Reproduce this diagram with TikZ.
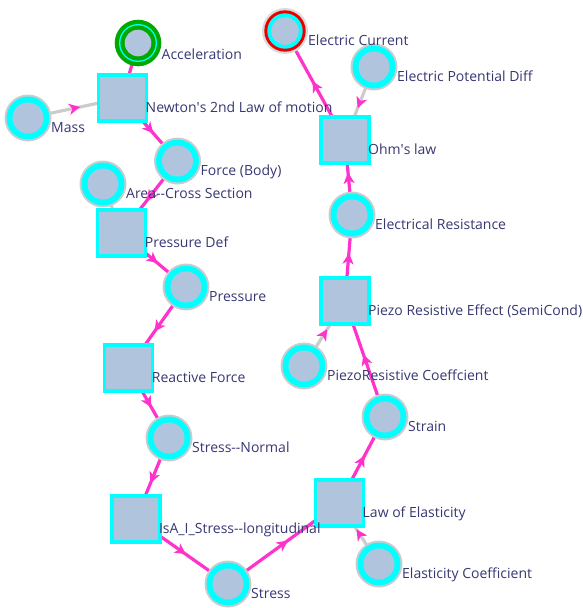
\documentclass[tikz,border=0pt]{standalone}
\usepackage{fontspec}
\setmainfont{Open Sans}
\usetikzlibrary{arrows.meta,decorations.markings,backgrounds}

\definecolor{nodefill}{RGB}{176,196,222}
\definecolor{ringcyan}{RGB}{0,255,255}
\definecolor{ringgray}{RGB}{204,204,204}
\definecolor{flowpink}{RGB}{255,51,204}
\definecolor{labeltext}{RGB}{55,55,115}
\definecolor{startgreen}{RGB}{0,168,0}
\definecolor{endred}{RGB}{235,0,0}

\tikzset{
  quantity/.style={circle, minimum size=47pt, inner sep=0pt, fill=ringgray,
    path picture={
      \fill[ringcyan] (path picture bounding box.center) circle (21.5pt);
      \fill[nodefill] (path picture bounding box.center) circle (15.5pt);}},
  startq/.style={circle, minimum size=46.6pt, inner sep=0pt, fill=startgreen,
    path picture={
      \fill[ringcyan] (path picture bounding box.center) circle (19pt);
      \fill[startgreen] (path picture bounding box.center) circle (17.6pt);
      \fill[nodefill] (path picture bounding box.center) circle (13.3pt);}},
  endq/.style={circle, minimum size=46pt, inner sep=0pt, fill=ringgray!70,
    path picture={
      \fill[endred] (path picture bounding box.center) circle (20.7pt);
      \fill[ringcyan] (path picture bounding box.center) circle (17.7pt);
      \fill[nodefill] (path picture bounding box.center) circle (13.8pt);}},
  law/.style={rectangle, minimum width=48pt, minimum height=46pt, inner sep=0pt,
    fill=nodefill, draw=ringcyan, line width=3.5pt},
  tag/.style={anchor=base west, text=labeltext, inner sep=0pt,
    font=\fontsize{14}{16}\selectfont},
  flow/.style={draw=flowpink, line width=3.2pt},
  param/.style={draw=ringgray, line width=3.2pt},
  mid arrow/.style={postaction={decorate, decoration={markings,
    mark=at position 0.5 with {\arrow[flowpink, xshift=5pt]{Stealth[length=11pt,width=11pt,inset=3pt]}}}}},
}

\begin{document}
\begin{tikzpicture}[x=1pt, y=-1pt]
\useasboundingbox (0,0) rectangle (583,608);

% mechanical chain
\node[startq]   (acc)    at (138,43)    {};
\node[law]      (newton) at (122.5,98)  {};
\node[quantity] (mass)   at (28,118)    {};
\node[quantity] (force)  at (177.5,161) {};
\node[quantity] (area)   at (103,184)   {};
\node[law]      (pdef)   at (121.7,233) {};
\node[quantity] (press)  at (186,287)   {};
\node[law]      (react)  at (128.7,368) {};
\node[quantity] (snorm)  at (169,438)   {};
\node[law]      (isa)    at (135.8,519) {};
\node[quantity] (stress) at (228,584)   {};

% electrical chain
\node[law]      (loe)    at (339.5,503) {};
\node[quantity] (ecoef)  at (379,564)   {};
\node[quantity] (strain) at (385,417)   {};
\node[quantity] (prcoef) at (304,366)   {};
\node[law]      (piezo)  at (345,301)   {};
\node[quantity] (eres)   at (352,215)   {};
\node[law]      (ohm)    at (345,140)   {};
\node[quantity] (epd)    at (374,67)    {};
\node[endq]     (ecur)   at (285,31)    {};

% connectors, behind the nodes
\begin{scope}[on background layer]
  \draw[flow] (acc.center) -- (newton.center);
  \draw[param, mid arrow] (mass.center) -- (newton.center);
  \draw[flow, mid arrow] (newton.center) -- (force.center);
  \draw[flow, mid arrow] (force.center) -- (pdef.center);
  \draw[param] (area.center) -- (pdef.center);
  \draw[flow, mid arrow] (pdef.center) -- (press.center);
  \draw[flow, mid arrow] (press.center) -- (react.center);
  \draw[flow, mid arrow] (react.center) -- (snorm.center);
  \draw[flow, mid arrow] (snorm.center) -- (isa.center);
  \draw[flow, mid arrow] (isa.center) -- (stress.center);
  \draw[flow, mid arrow] (stress.center) -- (loe.center);
  \draw[param, mid arrow] (ecoef.center) -- (loe.center);
  \draw[flow, mid arrow] (loe.center) -- (strain.center);
  \draw[flow, mid arrow] (strain.center) -- (piezo.center);
  \draw[param, mid arrow] (prcoef.center) -- (piezo.center);
  \draw[flow, mid arrow] (piezo.center) -- (eres.center);
  \draw[flow, mid arrow] (eres.center) -- (ohm.center);
  \draw[param, mid arrow] (epd.center) -- (ohm.center);
  \draw[flow, mid arrow] (ohm.center) -- (ecur.center);
\end{scope}

% labels
\node[tag] (t-acc)    at ([shift={(23.5,16)}]acc.center)      {Acceleration};
\node[tag] (t-newton) at ([shift={(23,14)}]newton.center)     {Newton\textquotesingle s 2nd Law of motion};
\node[tag] (t-mass)   at ([shift={(23,14.5)}]mass.center)     {Mass};
\node[tag] (t-force)  at ([shift={(23,14.5)}]force.center)    {Force (Body)};
\node[tag] (t-area)   at ([shift={(23,14)}]area.center)       {Area-{}-Cross Section};
\node[tag] (t-pdef)   at ([shift={(23,14)}]pdef.center)       {Pressure Def};
\node[tag] (t-press)  at ([shift={(23,14)}]press.center)      {Pressure};
\node[tag] (t-react)  at ([shift={(23,14)}]react.center)      {Reactive Force};
\node[tag] (t-snorm)  at ([shift={(23,14)}]snorm.center)      {Stress-{}-Normal};
\node[tag] (t-isa)    at ([shift={(23,14)}]isa.center)        {IsA\_I\_Stress-{}-longitudinal};
\node[tag] (t-stress) at ([shift={(23,14)}]stress.center)     {Stress};
\node[tag] (t-loe)    at ([shift={(23,14)}]loe.center)        {Law of Elasticity};
\node[tag] (t-ecoef)  at ([shift={(23,14)}]ecoef.center)      {Elasticity Coefficient};
\node[tag] (t-strain) at ([shift={(23,14)}]strain.center)     {Strain};
\node[tag] (t-prcoef) at ([shift={(23,14)}]prcoef.center)     {PiezoResistive Coeffcient};
\node[tag] (t-piezo)  at ([shift={(23,14)}]piezo.center)      {Piezo Resistive Effect (SemiCond)};
\node[tag] (t-eres)   at ([shift={(23,14)}]eres.center)       {Electrical Resistance};
\node[tag] (t-ohm)    at ([shift={(23,14)}]ohm.center)        {Ohm\textquotesingle s law};
\node[tag] (t-epd)    at ([shift={(23,14)}]epd.center)        {Electric Potential Diff};
\node[tag] (t-ecur)   at ([shift={(23,14)}]ecur.center)       {Electric Current};
\end{tikzpicture}
\end{document}
